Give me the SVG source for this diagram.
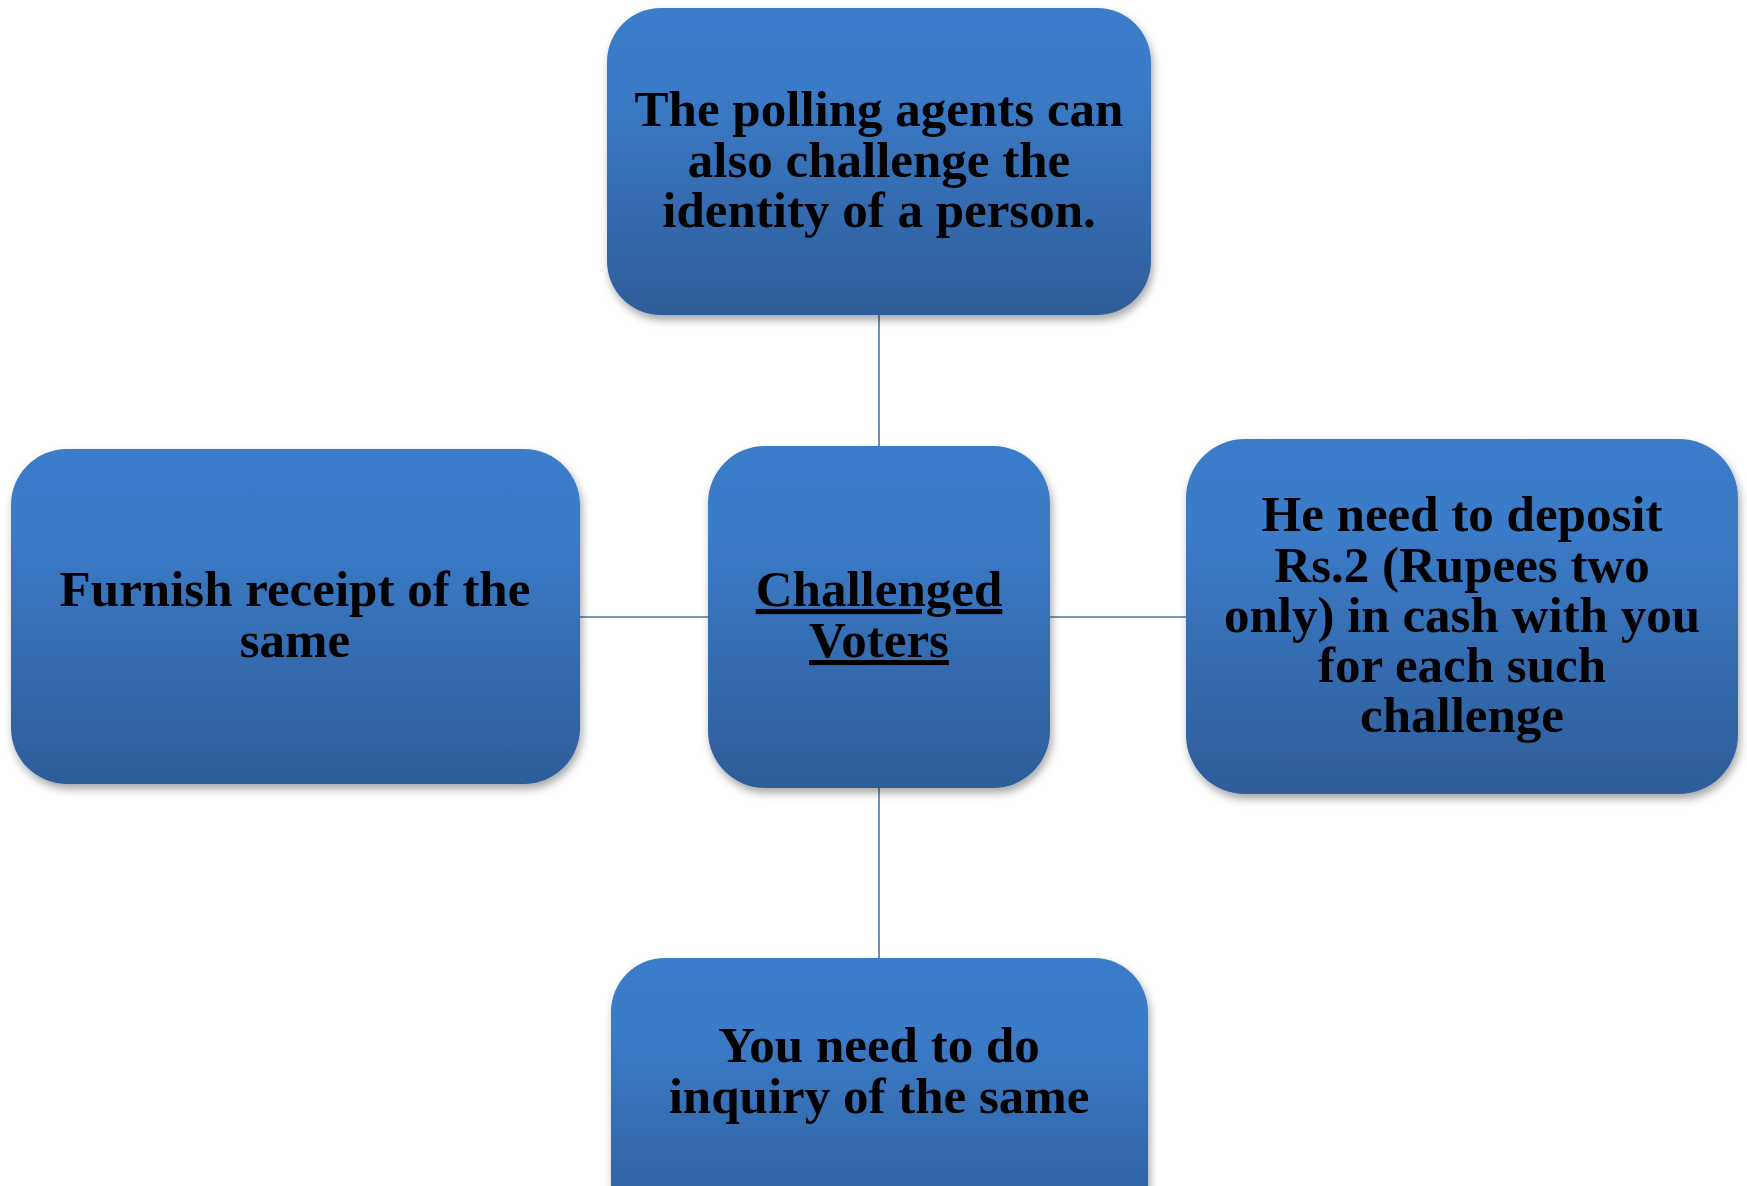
<svg xmlns="http://www.w3.org/2000/svg" width="1747" height="1186" viewBox="0 0 1747 1186">
<defs>
<linearGradient id="g" x1="0" y1="0" x2="0" y2="1">
<stop offset="0" stop-color="#3B7DCB"/>
<stop offset="0.25" stop-color="#3B7BC8"/>
<stop offset="1" stop-color="#2E5D99"/>
</linearGradient>
<filter id="sh" x="-10%" y="-10%" width="120%" height="125%">
<feDropShadow dx="2" dy="5" stdDeviation="4" flood-color="#000" flood-opacity="0.35"/>
</filter>
</defs>
<style>
.box{fill:url(#g);filter:url(#sh);}
.t{font-family:"Liberation Serif","Times New Roman",serif;font-weight:bold;font-size:51px;fill:#000;text-anchor:middle;}
.u{text-decoration:underline;}
.c{stroke:#4A77AD;stroke-width:1.6;fill:none;}
</style>
<rect width="1747" height="1186" fill="#fff"/>
<g id="connectors">
<line class="c" x1="879" y1="315" x2="879" y2="446"/>
<line class="c" x1="879" y1="788" x2="879" y2="958"/>
<line class="c" x1="580" y1="617" x2="708" y2="617"/>
<line class="c" x1="1050" y1="617" x2="1186" y2="617"/>
</g>
<g id="top">
<rect class="box" x="607" y="8" width="544" height="307" rx="54"/>
<text class="t" x="879" y="126">The polling agents can</text>
<text class="t" x="879" y="177">also challenge the</text>
<text class="t" x="879" y="227">identity of a person.</text>
</g>
<g id="center">
<rect class="box" x="708" y="446" width="342" height="342" rx="57"/>
<text class="t u" x="879" y="606">Challenged</text>
<text class="t u" x="879" y="657">Voters</text>
</g>
<g id="left">
<rect class="box" x="11" y="449" width="569" height="335" rx="56"/>
<text class="t" x="295" y="606">Furnish receipt of the</text>
<text class="t" x="295" y="657">same</text>
</g>
<g id="right">
<rect class="box" x="1186" y="439" width="552" height="355" rx="59"/>
<text class="t" x="1462" y="531">He need to deposit</text>
<text class="t" x="1462" y="582">Rs.2 (Rupees two</text>
<text class="t" x="1462" y="632">only) in cash with you</text>
<text class="t" x="1462" y="682">for each such</text>
<text class="t" x="1462" y="732">challenge</text>
</g>
<g id="bottom">
<rect class="box" x="611" y="958" width="537" height="290" rx="54"/>
<text class="t" x="879" y="1062">You need to do</text>
<text class="t" x="879" y="1113">inquiry of the same</text>
</g>
</svg>
